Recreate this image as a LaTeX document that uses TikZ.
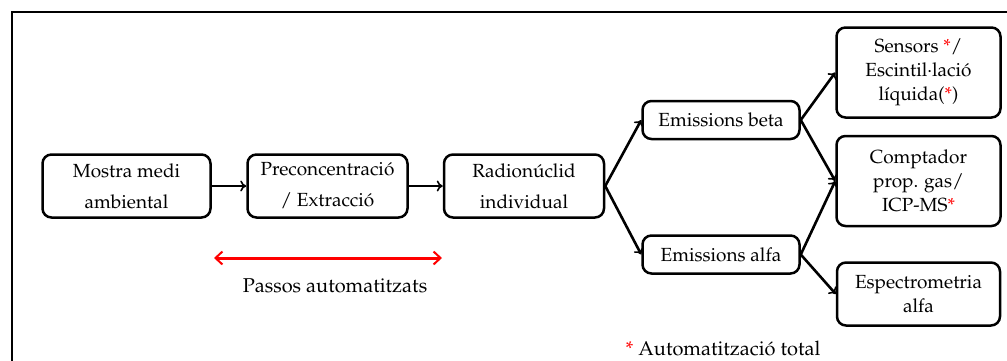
\documentclass[tikz,border=0pt]{standalone}
\usepackage[T1]{fontenc}
\usepackage{mathpazo}
\usetikzlibrary{arrows.meta}
\tikzset{
  box/.style={draw=black, line width=2.5pt, rounded corners=9pt, align=center,
    inner sep=0pt, font=\fontsize{19}{24}\selectfont, text=black},
  widebox/.style={box, font=\fontsize{19}{31}\selectfont},
  conn/.style={line width=2.6pt, -{To[length=6pt,width=11pt,line width=1.6pt]}},
  redarrow/.style={draw=red, line width=3pt, {Straight Barb[length=7pt,width=13pt,line width=2pt]}-{Straight Barb[length=7pt,width=13pt,line width=2pt]}},
  lbl/.style={font=\fontsize{20}{24}\selectfont, inner sep=0pt}
}
\newcommand{\rs}{\textcolor{red}{*}}
\begin{document}
\begin{tikzpicture}[x=1pt,y=-1pt]
\useasboundingbox (0,0) rectangle (1007,360);
\begin{scope}
\clip (0,0) rectangle (1007,360);
\draw[line width=2pt] (11.5,380) coordinate (fbl) |- (1030,12) coordinate (ftr);
\end{scope}
\node[widebox, minimum width=168pt, minimum height=63pt] (mostra) at (126.5,186) {Mostra medi\\ambiental};
\node[widebox, minimum width=160pt, minimum height=63pt] (precon) at (327.5,186) {Preconcentraci\'o\\/ Extracci\'o};
\node[widebox, minimum width=160pt, minimum height=63pt] (radio) at (524,186) {Radion\'uclid\\individual};
\node[box, minimum width=157pt, minimum height=38pt] (beta) at (721,120) {Emissions beta};
\node[box, minimum width=157pt, minimum height=38pt] (alfa) at (721,254.5) {Emissions alfa};
\node[box, minimum width=164pt, minimum height=90pt] (sensors) at (918.5,72.5) {Sensors \rs/\\Escintil\textperiodcentered laci\'o\\l\'{\i}quida(\rs)};
\node[box, minimum width=164pt, minimum height=90pt] (compt) at (918.5,181) {Comptador\\prop. gas/\\ICP-MS\rs};
\node[box, minimum width=163pt, minimum height=63pt] (espec) at (918.5,294) {Espectrometria\\alfa};
\draw[conn] (mostra.east) -- (precon.west);
\draw[conn] (precon.east) -- (radio.west);
\draw[conn] (radio.east) -- (beta.west);
\draw[conn] (radio.east) -- (alfa.west);
\draw[conn] (beta.east) -- (sensors.west);
\draw[conn] (beta.east) -- (compt.west);
\draw[conn] (alfa.east) -- (compt.west);
\draw[conn] (alfa.east) -- (espec.west);
\coordinate (ra) at (214,258);
\coordinate (rb) at (442,258);
\draw[redarrow] (ra) -- (rb);
\node[lbl, anchor=base] (passos) at (335,292.5) {Passos automatitzats};
\node[lbl, anchor=base] (auto) at (723,355) {\rs\ Automatitzaci\'o total};
\end{tikzpicture}
\end{document}
